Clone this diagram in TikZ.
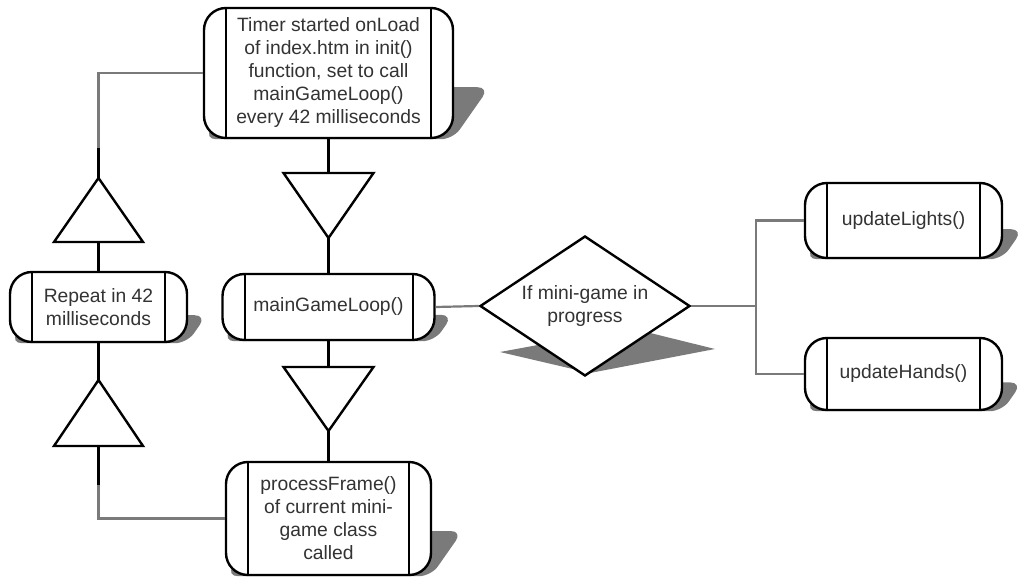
\documentclass[tikz,border=0pt]{standalone}
\usepackage{fontspec}
\setmainfont{Liberation Sans}
\usetikzlibrary{shapes.geometric}
\pgfdeclarelayer{background}
\pgfsetlayers{background,main}
\tikzset{
  txt/.style={align=center, text=black!80, font=\fontsize{19.3}{23}\selectfont},
  procbox/.style 2 args={txt, draw=black, line width=2.4pt, fill=white,
    rounded corners=22pt, minimum width=#1, minimum height=#2, inner sep=0pt,
    path picture={\draw[line width=2pt, black]
      ([xshift=22pt]path picture bounding box.north west) -- ([xshift=22pt]path picture bounding box.south west)
      ([xshift=-22pt]path picture bounding box.north east) -- ([xshift=-22pt]path picture bounding box.south east);}},
  decbox/.style={txt, draw=black, line width=2.4pt, fill=white, shape=diamond,
    aspect=1.5, minimum width=210pt, minimum height=140pt, inner sep=0pt},
  tri/.style={draw=black, line width=2.4pt, fill=white, line join=miter},
  conn/.style={draw=black!52, line width=2.2pt},
  stub/.style={draw=black, line width=2.4pt},
  shadowfill/.style={fill=black!52}
}
\newcommand\boxshadow[3]{%
  \fill[shadowfill, shift={(#1.south)}, cm={1,0,0.28,0.4,(0,0)}, rounded corners=12pt]
    (-#2/2,0) -- (-#2/2,-#3) -- (#2/2,-#3) -- (#2/2,0) -- cycle;}
\begin{document}
\begin{tikzpicture}[x=1pt, y=-1pt]
\useasboundingbox (0,0) rectangle (1018,578);

% process boxes
\node[procbox={249pt}{130pt}] (top) at (328.5,73)
  {Timer started onLoad\\of index.htm in init()\\function, set to call\\mainGameLoop()\\every 42 milliseconds};
\node[procbox={177pt}{70pt}] (rep) at (98.5,307) {Repeat in 42\\milliseconds};
\node[procbox={212pt}{66pt}] (main) at (328.5,307) {mainGameLoop()};
\node[procbox={205pt}{113pt}] (proc) at (328.5,518.5)
  {processFrame()\\of current mini-\\game class\\called};
\node[decbox] (dec) at (585,306) {If mini-game in\\progress};
\node[procbox={197pt}{75pt}] (lights) at (903.5,220.5) {updateLights()};
\node[procbox={197pt}{72pt}] (hands) at (903.5,374) {updateHands()};

% shadows
\begin{pgfonlayer}{background}
  \boxshadow{top}{249}{130}
  \boxshadow{rep}{177}{70}
  \boxshadow{main}{212}{66}
  \boxshadow{proc}{205}{113}
  \boxshadow{lights}{197}{75}
  \boxshadow{hands}{197}{72}
  \fill[shadowfill] (500,352) -- (630,328) -- (715,349) -- (590,373) -- cycle;
\end{pgfonlayer}

% triangles
\draw[tri] (54,242) -- (98.5,178) coordinate (t1a) -- (143,242) -- cycle;
\coordinate (t1b) at (98.5,242);
\draw[tri] (54,446) -- (98.5,380) coordinate (t2a) -- (143,446) -- cycle;
\coordinate (t2b) at (98.5,446);
\draw[tri] (283.5,173) -- (373.5,173) -- (328.5,238) coordinate (t3a) -- cycle;
\coordinate (t3b) at (328.5,173);
\draw[tri] (283.5,367) -- (373.5,367) -- (328.5,431) coordinate (t4a) -- cycle;
\coordinate (t4b) at (328.5,367);

% connector helper points
\coordinate (c1) at (98.5,148);
\coordinate (c2) at (98.5,485);
\coordinate (j) at (756,306);

% connectors
\draw[conn] (top.west) -| (c1);
\draw[stub] (c1) -- (t1a);
\draw[stub] (t1b) -- (rep.north);
\draw[stub] (rep.south) -- (t2a);
\draw[stub] (t2b) -- (c2);
\draw[conn] (c2) |- (proc.west);
\draw[stub] (top.south) -- (t3b);
\draw[stub] (t3a) -- (main.north);
\draw[stub] (main.south) -- (t4b);
\draw[stub] (t4a) -- (proc.north);
\draw[conn] (main.east) -- (dec.west);
\draw[conn] (dec.east) -- (j);
\draw[conn] (j) |- (lights.west);
\draw[conn] (j) |- (hands.west);
\end{tikzpicture}
\end{document}
